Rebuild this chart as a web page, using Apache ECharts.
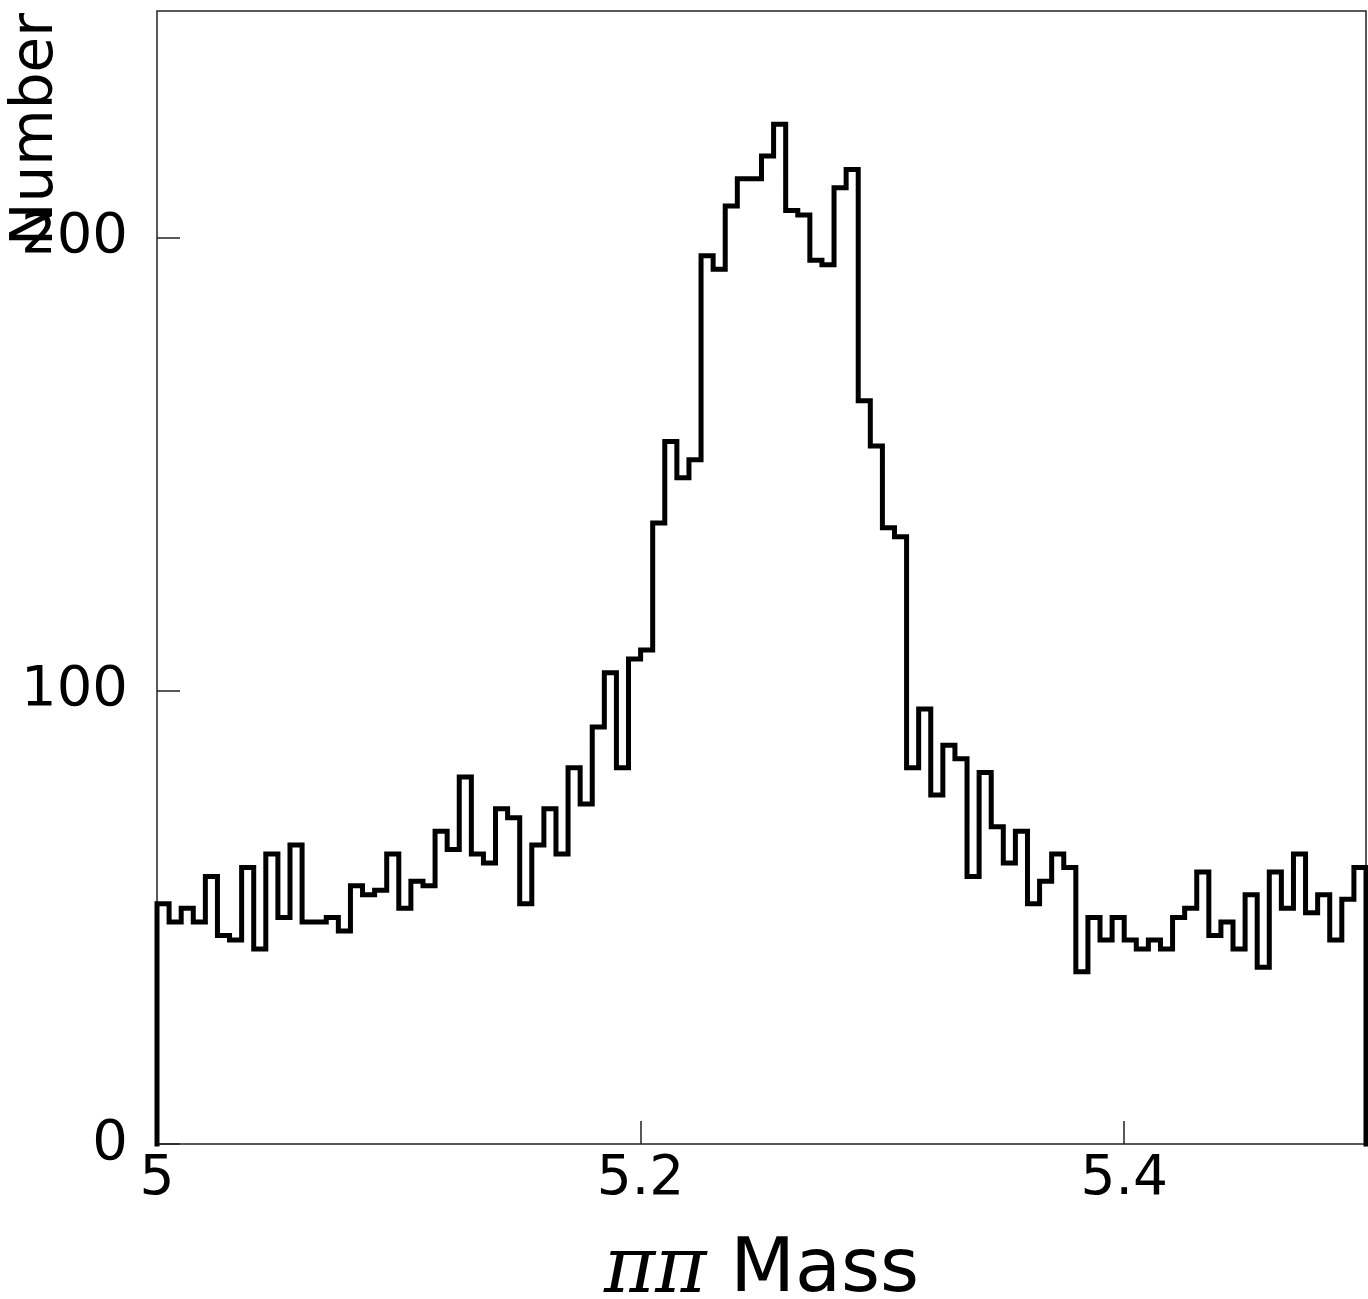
<!DOCTYPE html>
<html>
<head>
<meta charset="utf-8">
<script src="https://cdn.jsdelivr.net/npm/echarts@6/dist/echarts.min.js"></script>
<style>
  html, body { margin: 0; padding: 0; background: #fff; }
  #chart { width: 1368px; height: 1299px; }
</style>
</head>
<body>
<div id="chart"></div>
<script>
// Histogram definition: 100 bins of width 0.005 starting at 5.0
const binStart = 5.0;
const binWidth = 0.005;
const counts = [
  53, 49, 52, 49, 59, 46, 45, 61, 43, 64,
  50, 66, 49, 49, 50, 47, 57, 55, 56, 64,
  52, 58, 57, 69, 65, 81, 64, 62, 74, 72,
  53, 66, 74, 64, 83, 75, 92, 104, 83, 107,
  109, 137, 155, 147, 151, 196, 193, 207, 213, 213,
  218, 225, 206, 205, 195, 194, 211, 215, 164, 154,
  136, 134, 83, 96, 77, 88, 85, 59, 82, 70,
  62, 69, 53, 58, 64, 61, 38, 50, 45, 50,
  45, 43, 45, 43, 50, 52, 60, 46, 49, 43,
  55, 39, 60, 52, 64, 51, 55, 45, 54, 61
];
const xTicks = [5, 5.2, 5.4];
const yTicks = [0, 100, 200];
const xTitle = '{pi|ππ} Mass';
const yTitle = 'Number';

// Build step outline points (bin left edges), closed to zero at both ends
const histData = [[binStart, 0]];
counts.forEach((c, i) => histData.push([binStart + i * binWidth, c]));
const xEnd = binStart + counts.length * binWidth;
histData.push([xEnd, counts[counts.length - 1]]);
histData.push([xEnd, 0]);

const chart = echarts.init(document.getElementById('chart'), null, { renderer: 'canvas' });
const labelFont = 'DejaVu Sans';
chart.setOption({
  animation: false,
  backgroundColor: '#fff',
  grid: {
    left: 157, right: 2, top: 11, bottom: 155,
    containLabel: false, outerBoundsMode: 'none',
    show: true, borderColor: '#222', borderWidth: 1.5, backgroundColor: 'transparent'
  },
  xAxis: {
    type: 'value', min: 5, max: 5.5, interval: 0.2,
    name: xTitle, nameLocation: 'middle', nameGap: 89, nameMoveOverlap: false,
    nameTextStyle: {
      fontFamily: labelFont, fontSize: 75, color: '#000',
      rich: { pi: { fontFamily: 'DejaVu Serif', fontStyle: 'italic', fontSize: 78, color: '#000' } }
    },
    axisLine: { show: false },
    axisTick: { show: true, inside: true, length: 23, customValues: xTicks, lineStyle: { color: '#222', width: 1.5 } },
    axisLabel: { customValues: xTicks, margin: 8, fontFamily: labelFont, fontSize: 55, color: '#000' },
    splitLine: { show: false }
  },
  yAxis: {
    type: 'value', min: 0, max: 250, interval: 100,
    name: yTitle, nameLocation: 'end', nameRotate: 90, nameGap: -2, nameMoveOverlap: false,
    nameTextStyle: {
      fontFamily: labelFont, fontSize: 58, color: '#000',
      align: 'right', verticalAlign: 'bottom', padding: [0, 0, 91, 0]
    },
    axisLine: { show: false },
    axisTick: { show: true, inside: true, length: 23, customValues: yTicks, lineStyle: { color: '#222', width: 1.5 } },
    axisLabel: { customValues: yTicks, margin: 29, fontFamily: labelFont, fontSize: 56, color: '#000' },
    splitLine: { show: false }
  },
  series: [{
    type: 'line',
    step: 'end',
    data: histData,
    symbol: 'none',
    clip: false,
    lineStyle: { color: '#000', width: 5, join: 'miter', cap: 'square' }
  }]
});
</script>
</body>
</html>
